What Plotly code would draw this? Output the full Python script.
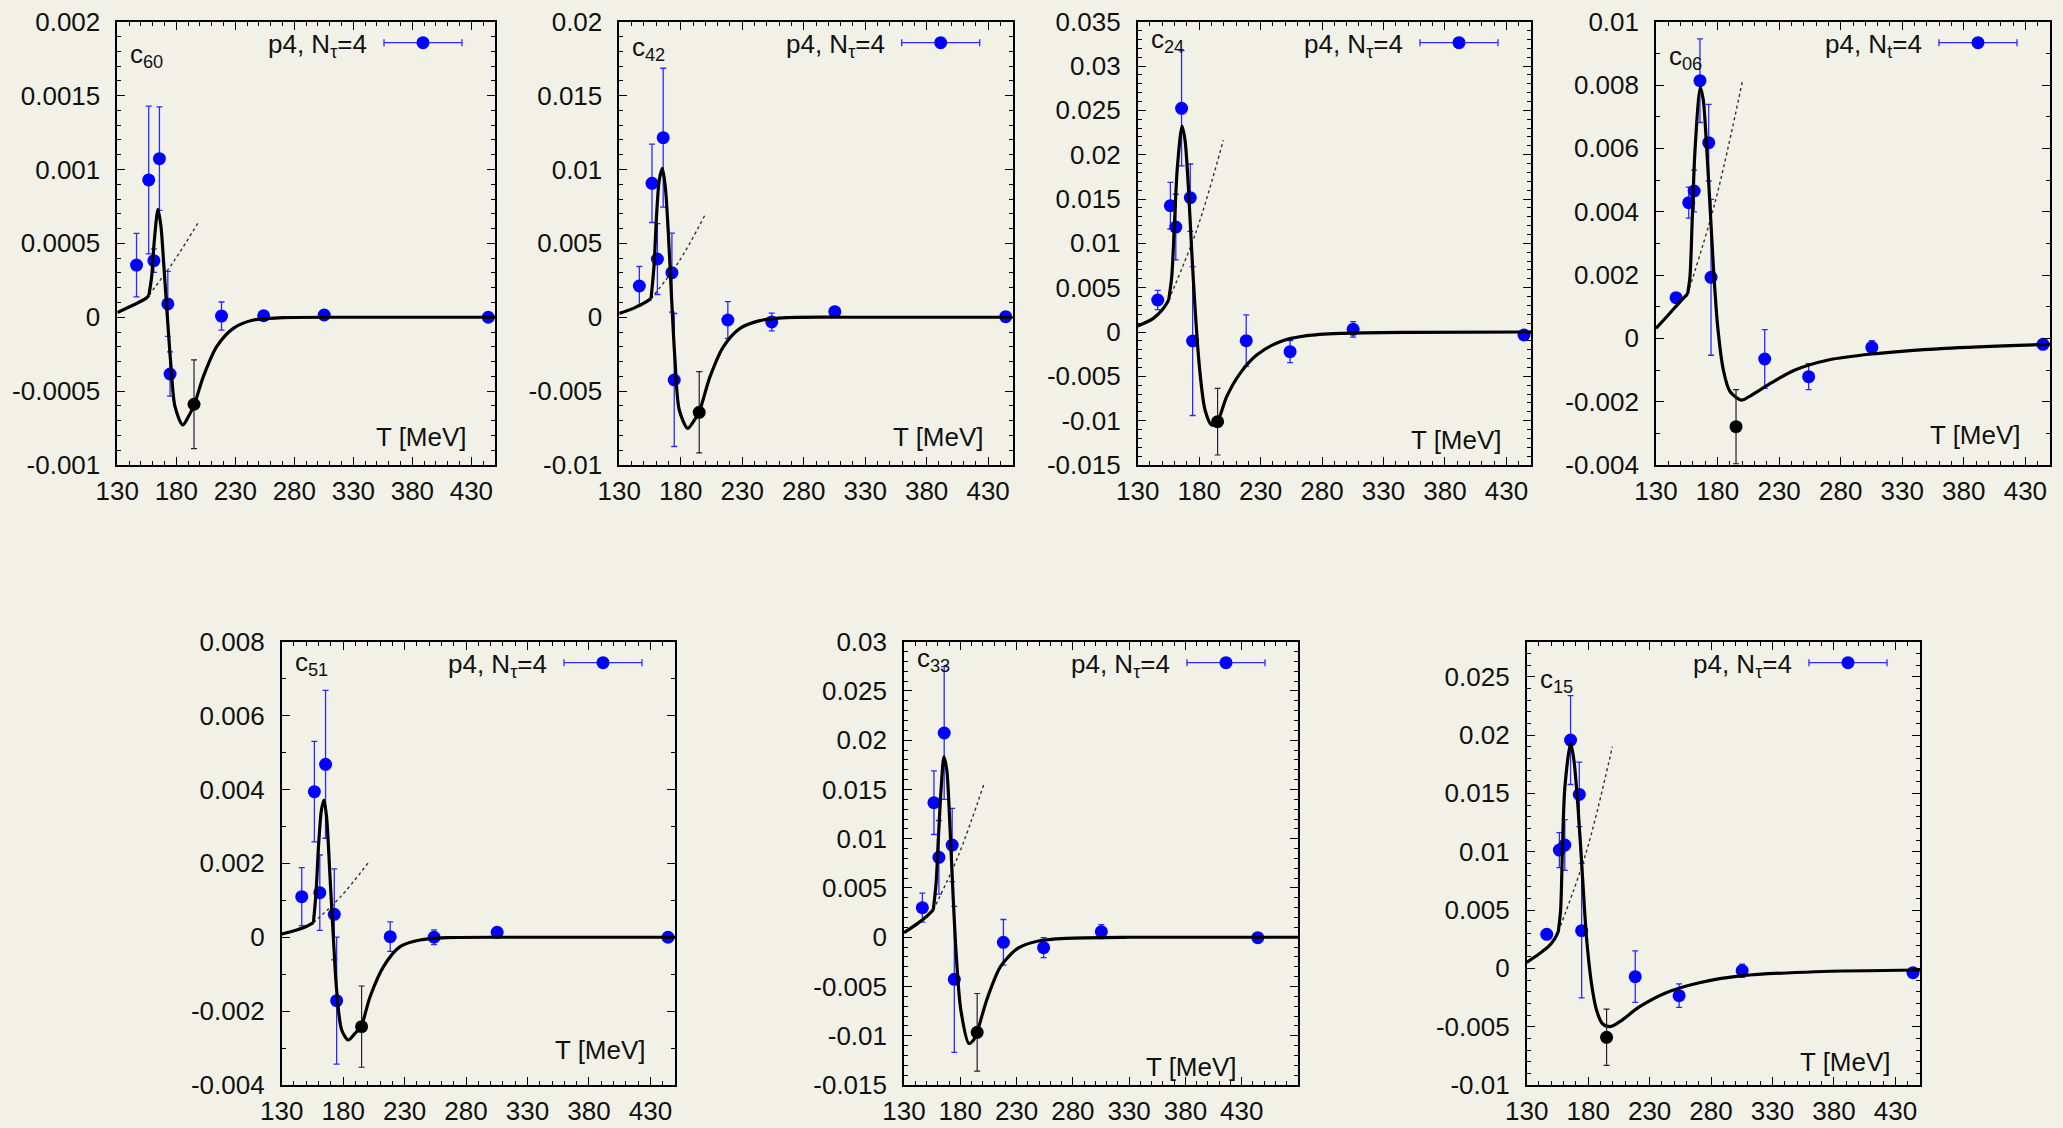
import plotly.graph_objects as go

W, H = 2063, 1128
BG = "#f2f1e8"
FONT = "Liberation Sans, Arial, Helvetica, sans-serif"
FS = 26

# Lattice temperatures (MeV) of the p4, N_tau=4 data and of the extra (black) point
T_POINTS = [146.3, 156.6, 161.0, 165.7, 172.8, 174.7, 218.3, 254.0, 305.3, 444.3]
T_EXTRA = [195.0]
X_TICKS = [130, 180, 230, 280, 330, 380, 430]

# ---- c60 ----
C60_VAL = [0.000353, 0.000929, 0.000383, 0.001073, 0.00009, -0.000384, 0.000008, 0.00001, 0.000015, 0.0]
C60_ERR = [0.000215, 0.0005, 0.00008, 0.00035, 0.00022, 0.00015, 0.000095, 0.00003, 0.00001, 0.00001]
C60_EXTRA = [-0.000589]
C60_EXTRA_ERR = [0.0003]
C60_HRG_T = [130, 143.6, 150, 154.9, 156.8]
C60_HRG_V = [0.000031, 0.000083, 0.000108, 0.000132, 0.00015]
C60_DOT_T = [156.8, 178, 199.5]
C60_DOT_V = [0.00015, 0.00038, 0.000653]
C60_FIT_T = [156.8, 159.1, 161.4, 164.5, 167.0, 169.5, 172.4, 175.5, 178.9, 185.4, 190.2, 195.3,
             202.9, 214.2, 228.3, 245.3, 270.7, 320, 450]
C60_FIT_V = [0.00015, 0.000274, 0.000523, 0.00073, 0.000613, 0.000342, 0.000004, -0.000335, -0.000605,
             -0.000729, -0.000673, -0.000589, -0.000402, -0.000199, -0.000075, -0.000019, -0.000003, 0.0, 0.0]

# ---- c42 ----
C42_VAL = [0.002113, 0.00906, 0.00394, 0.01215, 0.003016, -0.004247, -0.000187, -0.00032, 0.000377, 0.00004]
C42_ERR = [0.00132, 0.00265, 0.0024, 0.0047, 0.00267, 0.0045, 0.00124, 0.0006, 0.0002, 0.0001]
C42_EXTRA = [-0.006435]
C42_EXTRA_ERR = [0.00275]
C42_HRG_T = [130, 141.4, 150, 155.8]
C42_HRG_V = [0.00026, 0.0006, 0.00095, 0.00126]
C42_DOT_T = [155.8, 178, 199.7]
C42_DOT_V = [0.00126, 0.0037, 0.00692]
C42_FIT_T = [155.8, 158.2, 160.4, 162.5, 165.0, 167.4, 169.9, 172.6, 175.3, 178.8, 185.6, 190.2, 194.8,
             203.8, 214.6, 228.2, 244.4, 266, 320, 450]
C42_FIT_V = [0.00126, 0.00343, 0.00703, 0.00928, 0.01007, 0.00884, 0.00568, 0.00117, -0.0029, -0.00628,
             -0.00752, -0.00707, -0.00644, -0.00402, -0.002, -0.00075, -0.00023, -0.00003, 0.0, 0.0]

# ---- c24 ----
C24_VAL = [0.003609, 0.01425, 0.01184, 0.02523, 0.01515, -0.001015, -0.000977, -0.00222, 0.0003, -0.00034]
C24_ERR = [0.00109, 0.00263, 0.0037, 0.0065, 0.0038, 0.0084, 0.0029, 0.00124, 0.00088, 0.0002]
C24_EXTRA = [-0.01011]
C24_EXTRA_ERR = [0.00376]
C24_HRG_T = [130, 142.7, 150, 155.2]
C24_HRG_V = [0.00068, 0.00154, 0.0025, 0.00361]
C24_DOT_T = [155.2, 178, 199.7]
C24_DOT_V = [0.00361, 0.0115, 0.02165]
C24_FIT_T = [155.2, 157.7, 159.8, 162.3, 166.1, 168.5, 171.2, 173.9, 176.6, 180.2, 184.8, 190.2, 194.8,
             202.4, 213.3, 226.8, 245.8, 267.5, 294.6, 350, 450]
C24_FIT_V = [0.00361, 0.00624, 0.01188, 0.01865, 0.02323, 0.02165, 0.01639, 0.00925, 0.00286, -0.00391,
             -0.0088, -0.01049, -0.01011, -0.00729, -0.00466, -0.00259, -0.00109, -0.00041, -0.00015,
             -0.00003, 0.0]

# ---- c06 ----
C06_VAL = [0.001284, 0.004284, 0.004653, 0.008137, 0.006179, 0.001926, -0.000653, -0.00121, -0.000284, -0.000189]
C06_ERR = [0.0001, 0.00049, 0.00066, 0.00132, 0.00121, 0.00246, 0.00093, 0.00041, 0.00021, 0.00005]
C06_EXTRA = [-0.00279]
C06_EXTRA_ERR = [0.00117]
C06_HRG_T = [130, 140, 150.8, 155.7]
C06_HRG_V = [0.000316, 0.000737, 0.00121, 0.0014]
C06_DOT_T = [155.7, 178, 200.4]
C06_DOT_V = [0.0014, 0.0043, 0.00816]
C06_FIT_T = [155.7, 157.6, 159.5, 161.7, 166.0, 168.4, 171.1, 173.9, 176.6, 180.1, 184.7, 190.1, 199.6,
             207.7, 223.9, 242.9, 270, 305.2, 364.7, 450]
C06_FIT_V = [0.0014, 0.00195, 0.00384, 0.00595, 0.00793, 0.00753, 0.00605, 0.00416, 0.00226, 0.00037,
             -0.001, -0.00168, -0.00195, -0.00179, -0.0014, -0.001, -0.000684, -0.000495, -0.000316, -0.000189]

# ---- c51 ----
C51_VAL = [0.001098, 0.00394, 0.001206, 0.00468, 0.00062, -0.001717, 0.0000153, 0.0, 0.000133, 0.0]
C51_ERR = [0.000785, 0.00136, 0.00102, 0.002, 0.00123, 0.00172, 0.0004, 0.0002, 0.00003, 0.00001]
C51_EXTRA = [-0.00242]
C51_EXTRA_ERR = [0.0011]
C51_HRG_T = [130, 142.2, 150, 155.8]
C51_HRG_V = [0.0000875, 0.000196, 0.00029, 0.000395]
C51_DOT_T = [155.8, 178, 200.5]
C51_DOT_V = [0.000395, 0.0011, 0.00202]
C51_FIT_T = [155.8, 157.9, 160.1, 162.3, 164.4, 166.6, 169.3, 172.0, 174.7, 178.8, 184.2, 189.7, 194.5,
             201.9, 212.7, 226.3, 242.5, 264.2, 320, 450]
C51_FIT_V = [0.000395, 0.00119, 0.00254, 0.00344, 0.00371, 0.00322, 0.00164, 0.000015, -0.00143, -0.00251,
             -0.00278, -0.0026, -0.00242, -0.00161, -0.0008, -0.000255, -0.000075, -0.000012, 0.0, 0.0]

# ---- c33 ----
C33_VAL = [0.003, 0.01366, 0.00811, 0.02073, 0.00936, -0.00427, -0.00052, -0.00106, 0.000565, -0.00004]
C33_ERR = [0.00147, 0.00323, 0.00374, 0.00673, 0.00372, 0.00741, 0.00232, 0.00102, 0.00071, 0.0001]
C33_EXTRA = [-0.00965]
C33_EXTRA_ERR = [0.00394]
C33_HRG_T = [130, 142.2, 150, 156.0]
C33_HRG_V = [0.00046, 0.00141, 0.0021, 0.00277]
C33_DOT_T = [156.0, 178, 201.0]
C33_DOT_V = [0.00277, 0.0082, 0.01555]
C33_FIT_T = [156.0, 158.5, 160.6, 163.1, 165.5, 168.0, 170.7, 173.5, 176.5, 180.5, 187.6, 191.8, 194.9,
             203.5, 215.7, 231.0, 249.4, 273.9, 330, 480]
C33_FIT_V = [0.00277, 0.00547, 0.0102, 0.01528, 0.01832, 0.01697, 0.01156, 0.00446, -0.00197, -0.00739,
             -0.01078, -0.01044, -0.00965, -0.00637, -0.00299, -0.00113, -0.00038, -0.00011, 0.0, 0.0]

# ---- c15 ----
C15_VAL = [0.002914, 0.01014, 0.01057, 0.01957, 0.01491, 0.00323, -0.000714, -0.00234, -0.0002, -0.00037]
C15_ERR = [0.0002, 0.0015, 0.00217, 0.00381, 0.00276, 0.00576, 0.00221, 0.001, 0.00057, 0.0001]
C15_EXTRA = [-0.00591]
C15_EXTRA_ERR = [0.00241]
C15_HRG_T = [130, 140.8, 148, 153.0, 155.7]
C15_HRG_V = [0.00051, 0.00129, 0.0019, 0.00257, 0.00314]
C15_DOT_T = [155.7, 178, 199.7]
C15_DOT_V = [0.00314, 0.0098, 0.019]
C15_FIT_T = [155.7, 157.6, 159.2, 161.1, 165.7, 168.4, 171.9, 175.4, 178.6, 182.7, 186.8, 191.4, 197.6,
             205.7, 221.9, 243.5, 270.5, 305.7, 365, 450]
C15_FIT_V = [0.00314, 0.005, 0.01071, 0.01557, 0.01928, 0.01786, 0.01357, 0.00786, 0.00271, -0.00129,
             -0.00357, -0.00471, -0.005, -0.00457, -0.00329, -0.00209, -0.00123, -0.00063, -0.00029, -0.00014]

PANELS = [
    dict(sub="60", nt="τ", val=C60_VAL, err=C60_ERR, ex=C60_EXTRA, exe=C60_EXTRA_ERR,
         hrg=(C60_HRG_T, C60_HRG_V), dot=(C60_DOT_T, C60_DOT_V), fit=(C60_FIT_T, C60_FIT_V),
         yr=(-0.001, 0.002), dy=0.0005, my=0.0001, xr=(130, 450),
         box=(117.3, 495.0, 21.7, 465.0), cy=30, ty=28),
    dict(sub="42", nt="τ", val=C42_VAL, err=C42_ERR, ex=C42_EXTRA, exe=C42_EXTRA_ERR,
         hrg=(C42_HRG_T, C42_HRG_V), dot=(C42_DOT_T, C42_DOT_V), fit=(C42_FIT_T, C42_FIT_V),
         yr=(-0.01, 0.02), dy=0.005, my=0.001, xr=(130, 450),
         box=(619.3, 1012.7, 21.7, 465.0), cy=23, ty=28),
    dict(sub="24", nt="τ", val=C24_VAL, err=C24_ERR, ex=C24_EXTRA, exe=C24_EXTRA_ERR,
         hrg=(C24_HRG_T, C24_HRG_V), dot=(C24_DOT_T, C24_DOT_V), fit=(C24_FIT_T, C24_FIT_V),
         yr=(-0.015, 0.035), dy=0.005, my=0.001, xr=(130, 450),
         box=(1137.7, 1531.0, 21.7, 465.0), cy=15, ty=25),
    dict(sub="06", nt="t", val=C06_VAL, err=C06_ERR, ex=C06_EXTRA, exe=C06_EXTRA_ERR,
         hrg=(C06_HRG_T, C06_HRG_V), dot=(C06_DOT_T, C06_DOT_V), fit=(C06_FIT_T, C06_FIT_V),
         yr=(-0.004, 0.01), dy=0.002, my=0.001, xr=(130, 450),
         box=(1656.0, 2050.0, 21.7, 465.0), cy=32, ty=30),
    dict(sub="51", nt="τ", val=C51_VAL, err=C51_ERR, ex=C51_EXTRA, exe=C51_EXTRA_ERR,
         hrg=(C51_HRG_T, C51_HRG_V), dot=(C51_DOT_T, C51_DOT_V), fit=(C51_FIT_T, C51_FIT_V),
         yr=(-0.004, 0.008), dy=0.002, my=0.001, xr=(130, 450),
         box=(281.7, 675.0, 641.7, 1085.0), cy=18, ty=35),
    dict(sub="33", nt="τ", val=C33_VAL, err=C33_ERR, ex=C33_EXTRA, exe=C33_EXTRA_ERR,
         hrg=(C33_HRG_T, C33_HRG_V), dot=(C33_DOT_T, C33_DOT_V), fit=(C33_FIT_T, C33_FIT_V),
         yr=(-0.015, 0.03), dy=0.005, my=0.001, xr=(130, 480),
         box=(904.0, 1298.0, 641.7, 1085.0), cy=14, ty=18),
    dict(sub="15", nt="τ", val=C15_VAL, err=C15_ERR, ex=C15_EXTRA, exe=C15_EXTRA_ERR,
         hrg=(C15_HRG_T, C15_HRG_V), dot=(C15_DOT_T, C15_DOT_V), fit=(C15_FIT_T, C15_FIT_V),
         yr=(-0.01, 0.028), dy=0.005, my=0.001, xr=(130, 450),
         box=(1526.7, 1920.0, 641.7, 1085.0), cy=35, ty=23),
]


def px_x(p):
    return p / W


def px_y(p):
    return 1 - p / H


def fmt(v):
    s = "%g" % round(v, 6)
    return "0" if s in ("-0", "0") else s


fig = go.Figure()
layout = dict(width=W, height=H, margin=dict(l=0, r=0, t=0, b=0, pad=0, autoexpand=False),
              paper_bgcolor=BG, plot_bgcolor=BG, showlegend=False,
              font=dict(family=FONT, size=FS, color="#111111"))
shapes, annotations = [], []
TXT = dict(family=FONT, size=FS, color="#111111")

for i, p in enumerate(PANELS, start=1):
    xa, ya = ("x" if i == 1 else "x%d" % i), ("y" if i == 1 else "y%d" % i)
    L, R, Tp, B = p["box"]

    # lattice points
    fig.add_trace(go.Scatter(
        x=T_POINTS, y=p["val"], mode="markers", xaxis=xa, yaxis=ya,
        marker=dict(color="#0000ff", size=13),
        error_y=dict(type="data", array=p["err"], color="#2a2aff", thickness=1.3, width=3)))
    # resonance-gas branch, its dotted continuation and the fitted curve
    fig.add_trace(go.Scatter(x=p["hrg"][0], y=p["hrg"][1], mode="lines", xaxis=xa, yaxis=ya,
                             line=dict(color="black", width=3.2, shape="spline")))
    fig.add_trace(go.Scatter(x=p["dot"][0], y=p["dot"][1], mode="lines", xaxis=xa, yaxis=ya,
                             line=dict(color="#333333", width=1.4, dash="dot", shape="spline")))
    fig.add_trace(go.Scatter(x=p["fit"][0], y=p["fit"][1], mode="lines", xaxis=xa, yaxis=ya,
                             line=dict(color="black", width=3.2, shape="spline", smoothing=0.8)))
    # extra point at T=195 MeV
    fig.add_trace(go.Scatter(
        x=T_EXTRA, y=p["ex"], mode="markers", xaxis=xa, yaxis=ya,
        marker=dict(color="black", size=13),
        error_y=dict(type="data", array=p["exe"], color="#222222", thickness=1.2, width=3)))

    ytv, v = [], p["yr"][0]
    while v <= p["yr"][1] + 1e-12:
        ytv.append(round(v, 6))
        v += p["dy"]
    common = dict(showgrid=False, zeroline=False, showline=True, linecolor="black", linewidth=1.6,
                  mirror="allticks", ticks="inside", ticklen=8, tickwidth=1.3, tickcolor="black",
                  automargin=False, tickfont=TXT)
    layout["xaxis" if i == 1 else "xaxis%d" % i] = dict(
        domain=[px_x(L), px_x(R)], range=list(p["xr"]), anchor=ya,
        tickmode="array", tickvals=X_TICKS, ticktext=[str(t) for t in X_TICKS],
        minor=dict(ticks="inside", ticklen=4, tickwidth=1.1, tickcolor="black", dtick=10, tick0=130),
        ticklabelstandoff=2, **common)
    layout["yaxis" if i == 1 else "yaxis%d" % i] = dict(
        domain=[px_y(B), px_y(Tp)], range=list(p["yr"]), anchor=xa,
        tickmode="array", tickvals=ytv, ticktext=[fmt(t) for t in ytv],
        minor=dict(ticks="inside", ticklen=4, tickwidth=1.1, tickcolor="black", dtick=p["my"], tick0=0),
        ticklabelstandoff=10, **common)

    # coefficient label
    annotations.append(dict(xref="paper", yref="paper", x=px_x(L + 11), y=px_y(Tp + p["cy"] + 4),
                            xanchor="left", yanchor="middle", showarrow=False,
                            text="c<sub>%s</sub>" % p["sub"], font=TXT))
    # axis title inside the frame
    annotations.append(dict(xref="paper", yref="paper",
                            x=px_x(L + (R - L) * (428 - p["xr"][0]) / (p["xr"][1] - p["xr"][0])),
                            y=px_y(B - p["ty"]), xanchor="right", yanchor="middle", showarrow=False,
                            text="T [MeV]", font=TXT))
    # key: label, horizontal error bar and dot
    ky = Tp + 21
    annotations.append(dict(xref="paper", yref="paper", x=px_x(R - 126), y=px_y(ky + 3),
                            xanchor="right", yanchor="middle", showarrow=False,
                            text="p4, N<sub>%s</sub>=4" % p["nt"], font=TXT))
    lc = "#2a2aff"
    shapes.append(dict(type="line", xref="paper", yref="paper", x0=px_x(R - 111), x1=px_x(R - 33),
                       y0=px_y(ky), y1=px_y(ky), line=dict(color=lc, width=1.3)))
    for xe in (R - 111, R - 33):
        shapes.append(dict(type="line", xref="paper", yref="paper", x0=px_x(xe), x1=px_x(xe),
                           y0=px_y(ky - 3.5), y1=px_y(ky + 3.5), line=dict(color=lc, width=1.3)))
    shapes.append(dict(type="circle", xref="paper", yref="paper", x0=px_x(R - 78.5), x1=px_x(R - 65.5),
                       y0=px_y(ky + 6.5), y1=px_y(ky - 6.5), fillcolor="#0000ff", line=dict(width=0)))

layout["shapes"] = shapes
layout["annotations"] = annotations
fig.update_layout(**layout)
fig.write_html("out.html")
